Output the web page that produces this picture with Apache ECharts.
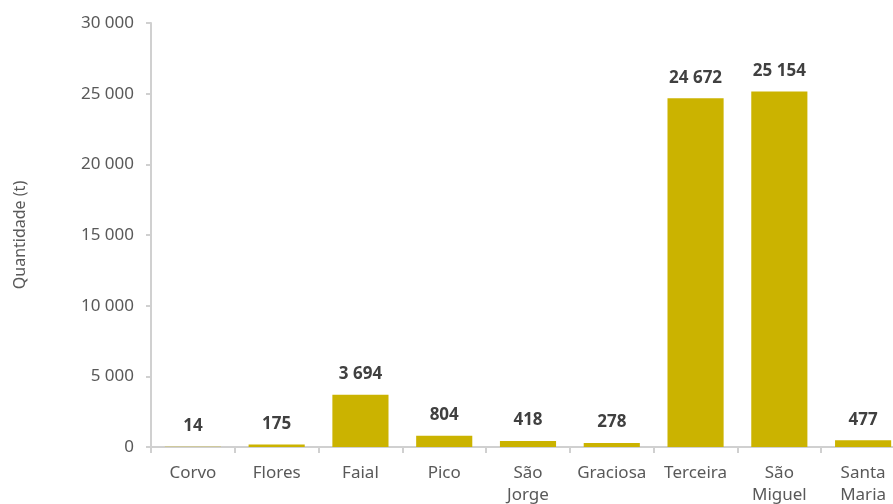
<!DOCTYPE html>
<html>
<head>
<meta charset="utf-8">
<script src="https://cdn.jsdelivr.net/npm/echarts@6/dist/echarts.min.js"></script>
<style>
  html, body { margin: 0; padding: 0; background: #ffffff; }
  #chart { width: 893px; height: 504px; }
</style>
</head>
<body>
<div id="chart"></div>
<script>
// Quantidade por ilha (toneladas)
const islands = ['Corvo', 'Flores', 'Faial', 'Pico', 'São\nJorge', 'Graciosa', 'Terceira', 'São\nMiguel', 'Santa\nMaria'];
const quantities = [14, 175, 3694, 804, 418, 278, 24672, 25154, 477];
const yTicks = { min: 0, max: 30000, interval: 5000 };
const yTitle = 'Quantidade (t)';

const FONT = '"Noto Sans", sans-serif';

// 12345 -> "12 345"
function spaced(v) {
  return String(Math.round(v)).replace(/\B(?=(\d{3})+(?!\d))/g, ' ');
}

const chart = echarts.init(document.getElementById('chart'), null, { renderer: 'canvas' });
chart.setOption({
  animation: false,
  backgroundColor: '#ffffff',
  grid: { left: 151, right: -12, top: 23, bottom: 57, containLabel: false, outerBoundsMode: 'none' },
  xAxis: {
    type: 'category',
    data: islands,
    axisLine: { show: true, lineStyle: { color: '#D0D0D0', width: 2 } },
    axisTick: { show: true, alignWithLabel: false, length: 6, lineStyle: { color: '#D0D0D0', width: 2 } },
    axisLabel: {
      color: '#595959', fontFamily: FONT, fontSize: 17, lineHeight: 22,
      margin: 15, interval: 0
    }
  },
  yAxis: {
    type: 'value',
    min: yTicks.min, max: yTicks.max, interval: yTicks.interval,
    name: yTitle,
    nameLocation: 'middle',
    nameGap: 123,
    nameRotate: 90,
    nameTextStyle: { color: '#595959', fontFamily: FONT, fontSize: 16 },
    axisLine: { show: true, lineStyle: { color: '#D0D0D0', width: 2 } },
    axisTick: { show: true, length: 5, lineStyle: { color: '#D0D0D0', width: 2 } },
    splitLine: { show: false },
    axisLabel: {
      color: '#595959', fontFamily: FONT, fontSize: 17, margin: 17,
      formatter: spaced
    }
  },
  series: [{
    type: 'bar',
    data: quantities,
    barCategoryGap: '33%',
    itemStyle: { color: '#CBB300' },
    label: {
      show: true, position: 'top', distance: 12,
      color: '#404040', fontFamily: FONT, fontSize: 17, fontWeight: 'bold',
      formatter: p => spaced(p.value)
    }
  }]
});
</script>
</body>
</html>
